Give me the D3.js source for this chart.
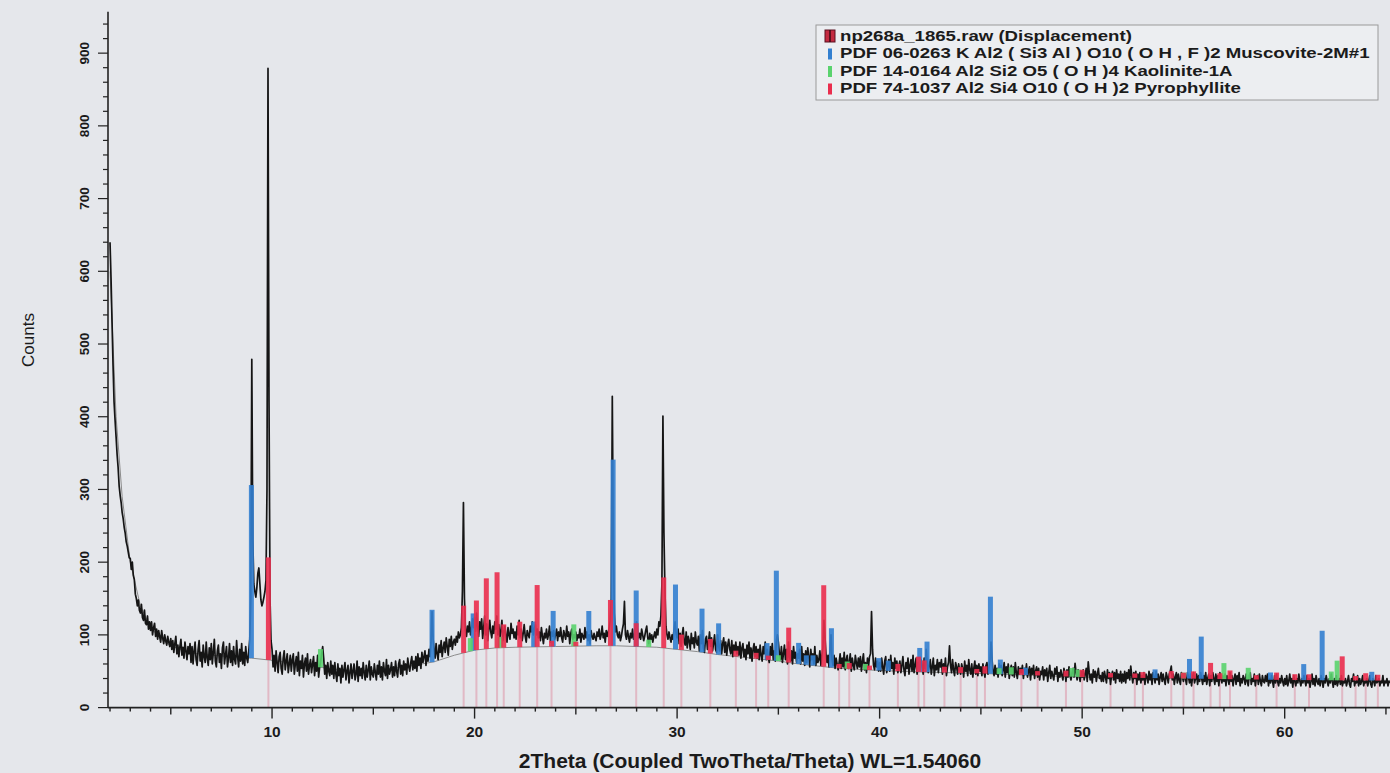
<!DOCTYPE html>
<html>
<head>
<meta charset="utf-8">
<script src="https://cdn.jsdelivr.net/npm/d3@7"></script>
<style>
  html, body { margin: 0; padding: 0; background: #e5e7eb; }
  svg { display: block; }
  text { font-family: "Liberation Sans", Arial, sans-serif; fill: #1b1b1b; }
</style>
</head>
<body>
<svg id="chart" width="1390" height="773"></svg>
<script>
// ---- Scan np268a_1865.raw: start angle and step, degrees 2Theta ----
const scanStart = 2.0;
const scanStep = 0.05;
const counts = [
  640, 590, 530, 470, 420, 395, 372, 348, 330, 305, 292, 282, 268, 260, 248, 240, 228, 222, 214, 206,  // 2
  205, 190, 200, 182, 176, 156, 150, 140, 148, 134, 130, 142, 124, 120, 134, 116, 114, 126, 108, 118,  // 3
  106, 118, 100, 110, 116, 98, 108, 94, 106, 98, 90, 106, 96, 88, 100, 92, 86, 98, 90, 84,             // 4
  95, 80, 92, 76, 88, 98, 74, 86, 70, 84, 94, 72, 83, 68, 90, 78, 66, 84, 74, 88,                       // 5
  62, 84, 60, 78, 90, 66, 58, 80, 92, 64, 76, 56, 86, 70, 62, 90, 68, 58, 82, 66,                       // 6
  88, 60, 76, 94, 64, 56, 78, 86, 62, 74, 54, 82, 90, 60, 72, 84, 56, 68, 88, 62,                       // 7
  78, 58, 84, 66, 60, 92, 70, 56, 80, 64, 88, 60, 76, 58, 84, 68, 62, 78, 94, 150,                      // 8
  479, 230, 170, 160, 152, 165, 185, 192, 170, 148, 140, 145, 152, 160, 175, 300, 879, 420, 150, 92,    // 9
  80, 56, 72, 50, 78, 62, 48, 70, 76, 54, 46, 68, 78, 52, 64, 74, 48, 60, 72, 50,                       // 10
  66, 74, 46, 60, 70, 50, 76, 44, 64, 54, 72, 42, 60, 68, 50, 74, 46, 58, 66, 48,                       // 11
  60, 70, 44, 62, 50, 72, 42, 56, 64, 74, 84, 68, 46, 58, 40, 62, 50, 44, 64, 46,                       // 12
  58, 40, 62, 46, 36, 60, 44, 54, 34, 58, 42, 52, 62, 38, 50, 58, 34, 48, 60, 40,                       // 13
  50, 60, 38, 46, 64, 36, 56, 44, 54, 40, 62, 48, 38, 58, 42, 52, 64, 38, 56, 46,                       // 14
  42, 60, 48, 38, 58, 46, 64, 42, 56, 38, 62, 50, 44, 66, 40, 58, 46, 52, 62, 42,                       // 15
  56, 44, 64, 50, 42, 60, 66, 46, 58, 44, 64, 52, 60, 46, 68, 56, 50, 62, 70, 52,                       // 16
  64, 54, 70, 50, 74, 58, 68, 54, 76, 62, 70, 78, 58, 72, 64, 80, 70, 90, 132, 95,                      // 17
  80, 68, 88, 74, 66, 86, 76, 92, 70, 82, 90, 76, 96, 84, 72, 94, 84, 98, 80, 90,                       // 18
  94, 86, 98, 90, 104, 96, 100, 110, 160, 282, 150, 106, 98, 112, 104, 118, 100, 108, 122, 110,         // 19
  124, 105, 130, 112, 98, 118, 108, 122, 95, 110, 126, 100, 115, 92, 108, 120, 104, 96, 112, 102,       // 20
  118, 108, 126, 100, 114, 96, 106, 120, 92, 104, 112, 98, 90, 110, 100, 94, 116, 102, 108, 96,         // 21
  104, 94, 112, 100, 120, 96, 108, 92, 102, 114, 98, 90, 106, 100, 96, 112, 104, 118, 100, 108,         // 22
  114, 100, 108, 96, 104, 92, 110, 98, 88, 102, 96, 108, 94, 100, 112, 90, 104, 98, 106, 94,            // 23
  100, 108, 92, 104, 98, 110, 96, 90, 106, 100, 94, 112, 98, 104, 88, 102, 108, 94, 100, 96,            // 24
  104, 92, 100, 96, 108, 90, 102, 98, 94, 110, 96, 104, 92, 100, 88, 106, 98, 94, 102, 96,              // 25
  92, 104, 98, 108, 94, 100, 112, 96, 102, 90, 106, 98, 104, 110, 120, 150, 428, 230, 130, 104,         // 26
  112, 100, 96, 104, 92, 98, 108, 115, 146, 100, 94, 106, 98, 90, 102, 96, 108, 94, 100, 110,           // 27
  118, 104, 96, 102, 94, 108, 100, 92, 98, 106, 112, 96, 88, 102, 94, 100, 90, 98, 104, 96,             // 28
  108, 100, 118, 112, 126, 170, 401, 240, 160, 112, 100, 94, 104, 96, 90, 100, 94, 108, 118, 102,       // 29
  96, 108, 88, 102, 84, 100, 110, 90, 86, 104, 82, 98, 92, 80, 102, 88, 96, 82, 104, 90,                // 30
  86, 98, 78, 100, 88, 106, 82, 76, 94, 98, 80, 90, 104, 84, 96, 78, 88, 100, 80, 76,                   // 31
  100, 84, 78, 92, 74, 88, 96, 76, 90, 72, 86, 94, 80, 74, 92, 70, 86, 78, 90, 74,                      // 32
  84, 72, 90, 68, 82, 88, 70, 80, 66, 86, 74, 90, 68, 82, 64, 80, 88, 70, 84, 68,                       // 33
  80, 66, 86, 72, 64, 84, 74, 90, 66, 80, 70, 62, 84, 72, 88, 66, 78, 64, 92, 100,                      // 34
  90, 74, 66, 84, 62, 74, 86, 66, 80, 60, 90, 70, 64, 78, 60, 84, 68, 76, 62, 74,                       // 35
  68, 80, 60, 84, 64, 74, 58, 78, 62, 82, 70, 56, 80, 66, 74, 60, 84, 58, 72, 62,                       // 36
  66, 78, 58, 72, 82, 120, 98, 74, 62, 72, 56, 80, 100, 66, 58, 72, 54, 68, 60, 52,                     // 37
  62, 74, 54, 68, 56, 76, 52, 66, 72, 54, 62, 74, 50, 68, 58, 52, 72, 62, 54, 68,                       // 38
  56, 70, 50, 64, 74, 52, 62, 48, 68, 56, 70, 74, 132, 80, 58, 52, 68, 56, 64, 50,                      // 39
  62, 50, 68, 56, 46, 64, 70, 48, 58, 66, 50, 72, 54, 62, 46, 68, 54, 64, 48, 58,                       // 40
  64, 48, 58, 70, 52, 44, 62, 54, 68, 46, 58, 66, 50, 72, 48, 58, 68, 46, 62, 54,                       // 41
  52, 66, 58, 46, 68, 54, 80, 62, 48, 58, 66, 46, 56, 68, 44, 58, 52, 66, 48, 62,                       // 42
  56, 66, 46, 60, 52, 68, 44, 56, 62, 85, 58, 48, 66, 52, 44, 62, 56, 46, 60, 52,                       // 43
  46, 60, 54, 42, 64, 50, 58, 44, 66, 52, 46, 60, 42, 54, 64, 46, 58, 44, 60, 50,                       // 44
  56, 44, 60, 50, 42, 58, 62, 46, 54, 64, 90, 66, 50, 44, 58, 46, 54, 42, 60, 48,                       // 45
  58, 44, 52, 62, 42, 56, 48, 60, 40, 52, 58, 44, 56, 42, 62, 48, 40, 56, 46, 54,                       // 46
  48, 58, 40, 54, 46, 60, 42, 50, 56, 38, 54, 46, 58, 40, 50, 56, 42, 54, 38, 50,                       // 47
  46, 56, 38, 52, 44, 54, 36, 48, 58, 40, 50, 44, 38, 54, 46, 56, 36, 48, 42, 52,                       // 48
  44, 38, 54, 48, 36, 52, 42, 56, 44, 38, 48, 54, 42, 61, 48, 38, 52, 44, 36, 50,                       // 49
  42, 52, 38, 46, 54, 36, 63, 48, 38, 46, 34, 52, 42, 50, 36, 46, 54, 40, 44, 36,                       // 50
  48, 36, 50, 42, 34, 52, 40, 48, 32, 44, 50, 38, 48, 34, 52, 40, 46, 36, 50, 34,                       // 51
  46, 36, 50, 34, 48, 40, 52, 38, 57, 44, 34, 48, 40, 50, 32, 46, 38, 48, 34, 44,                       // 52
  38, 48, 32, 46, 42, 34, 50, 38, 46, 32, 48, 42, 34, 50, 38, 46, 32, 42, 48, 36,                       // 53
  46, 38, 32, 48, 42, 34, 46, 50, 57, 38, 46, 32, 42, 48, 34, 46, 38, 32, 48, 42,                       // 54
  36, 46, 40, 32, 48, 42, 34, 46, 30, 42, 48, 34, 40, 46, 32, 44, 36, 48, 40, 32,                       // 55
  44, 36, 48, 32, 40, 46, 30, 44, 36, 48, 40, 32, 46, 36, 44, 30, 48, 40, 34, 44,                       // 56
  36, 46, 30, 44, 40, 32, 48, 36, 44, 30, 40, 46, 32, 44, 36, 48, 30, 40, 34, 44,                       // 57
  40, 32, 46, 36, 30, 44, 48, 32, 40, 36, 46, 30, 40, 44, 32, 46, 36, 30, 44, 36,                       // 58
  34, 44, 36, 46, 30, 40, 34, 44, 36, 28, 44, 34, 46, 36, 30, 40, 34, 44, 36, 30,                       // 59
  40, 32, 44, 30, 36, 46, 34, 40, 28, 44, 36, 30, 40, 34, 46, 36, 30, 40, 34, 44,                       // 60
  36, 30, 44, 34, 40, 28, 36, 46, 32, 40, 30, 44, 36, 32, 40, 30, 44, 36, 28, 40,                       // 61
  34, 44, 36, 30, 40, 34, 46, 36, 28, 40, 32, 44, 30, 36, 40, 32, 44, 30, 36, 34,                       // 62
  40, 30, 36, 44, 32, 28, 40, 36, 46, 30, 36, 34, 44, 30, 40, 32, 36, 44, 30, 36,                       // 63
  34, 40, 30, 36, 44, 32, 28, 40, 36, 30, 44, 34, 36, 40, 30, 36, 34, 44, 30, 36,                       // 64
  34, 40, 30, 36, 34                                                                                   // 65
];

// ---- Fitted background (stick patterns stand on it) ----
const bgTheta  = [2.0, 2.3, 2.6, 3.0, 3.5, 4.0, 4.5, 5.0, 6.0, 7.0, 8.0, 9.0, 10.0, 11.0, 12.0, 13.0, 14.0, 15.0, 16.0, 17.0, 18.0, 19.0, 20.0, 21.0, 22.0, 24.0, 26.0, 27.0, 28.0, 29.0, 30.0, 31.0, 32.0, 33.0, 34.0, 35.0, 36.0, 37.0, 38.0, 40.0, 42.0, 45.0, 48.0, 50.0, 55.0, 60.0, 65.5];
const bgCounts = [600, 400, 290, 200, 140, 110, 95, 85, 75, 72, 70, 68, 65, 61, 57, 53, 51, 51, 54, 58, 63, 72, 79, 82, 83, 84, 85, 85, 84, 83, 80, 77, 73, 70, 67, 64, 60, 57, 54, 51, 49, 47, 44, 42, 40, 38, 37];

// ---- PDF 06-0263 Muscovite-2M#1 (height above background) ----
const muscoviteTheta  = [8.98, 17.9, 19.93, 22.92, 23.88, 25.64, 26.84, 27.98, 29.92, 31.23, 32.05, 34.44, 34.9, 36.0, 36.38, 36.71, 37.62, 39.96, 40.43, 41.98, 42.34, 45.47, 45.96, 47.2, 53.6, 55.3, 55.88, 59.3, 60.94, 61.85, 64.3];
const muscoviteHeight = [238, 72, 51, 35, 49, 48, 256, 77, 89, 60, 43, 23, 124, 29, 13, 14, 54, 17, 14, 33, 42, 106, 20, 10, 12, 27, 58, 10, 22, 68, 12];

// ---- PDF 14-0164 Kaolinite-1A ----
const kaoliniteTheta  = [12.39, 19.79, 21.27, 24.9, 28.6, 35.0, 38.4, 39.3, 45.9, 46.5, 49.5, 49.8, 55.0, 57.0, 58.2, 62.3, 62.59];
const kaoliniteHeight = [25, 18, 15, 30, 10, 8, 10, 8, 8, 10, 12, 10, 8, 22, 16, 12, 27];

// ---- PDF 74-1037 Pyrophyllite ----
const pyrophylliteTheta  = [9.82, 19.46, 20.09, 20.58, 21.11, 21.44, 22.23, 23.09, 23.8, 25.0, 26.71, 27.98, 29.34, 30.21, 31.64, 32.9, 33.9, 34.5, 35.51, 37.24, 38.0, 38.5, 39.5, 40.9, 41.92, 42.2, 43.2, 44.0, 44.8, 45.2, 47.0, 47.8, 49.2, 50.0, 51.4, 52.6, 53.0, 54.4, 55.0, 55.5, 56.34, 56.8, 57.3, 58.6, 59.6, 60.5, 61.2, 62.84, 63.5, 64.0, 64.6];
const pyrophylliteHeight = [141, 65, 68, 97, 104, 32, 35, 85, 8, 6, 63, 32, 97, 21, 20, 8, 8, 6, 48, 112, 6, 8, 6, 10, 21, 16, 8, 8, 6, 10, 8, 6, 8, 10, 6, 6, 8, 10, 8, 10, 22, 8, 12, 6, 10, 8, 8, 33, 6, 10, 8];

// ---- Axis ticks and texts ----
const xTickLabels = [10, 20, 30, 40, 50, 60];
const yTickLabels = [0, 100, 200, 300, 400, 500, 600, 700, 800, 900];
const legendLabels = [
  "np268a_1865.raw (Displacement)",
  "PDF 06-0263 K Al2 ( Si3 Al ) O10 ( O H , F )2 Muscovite-2M#1",
  "PDF 14-0164 Al2 Si2 O5 ( O H )4 Kaolinite-1A",
  "PDF 74-1037 Al2 Si4 O10 ( O H )2 Pyrophyllite"
];
const xTitle = "2Theta (Coupled TwoTheta/Theta) WL=1.54060";
const yTitle = "Counts";

// ---- Colours ----
const colBlue = "#3380d0", colGreen = "#5ad36e", colRed = "#ea2e4e", colPink = "rgba(222,140,160,0.5)";

const svg = d3.select("#chart");
const W = 1390, H = 773;
const x = d3.scaleLinear().domain([1.9, 65.2]).range([108, 1390]);
const y = d3.scaleLinear().domain([0, 957]).range([707.6, 11.7]);
const bg = d3.scaleLinear().domain(bgTheta).range(bgCounts).clamp(true);

svg.append("rect").attr("width", W).attr("height", H).attr("fill", "#e5e7eb");

const plot = svg.append("g");

// pale pyrophyllite stick lines below the background
plot.append("g").selectAll("line")
  .data(pyrophylliteTheta)
  .join("line")
  .attr("x1", d => x(d)).attr("x2", d => x(d))
  .attr("y1", y(0)).attr("y2", d => y(bg(d)))
  .attr("stroke", colPink).attr("stroke-width", 2);

// background curve
const bgLine = d3.line().x((d, i) => x(bgTheta[i])).y(d => y(d));
plot.append("path").attr("d", bgLine(bgCounts))
  .attr("fill", "none").attr("stroke", "#8c8c8c").attr("stroke-width", 1);

// measured scan
const scan = counts.map((c, i) => [scanStart + i * scanStep, c]);
plot.append("path")
  .attr("d", d3.line().x(d => x(d[0])).y(d => y(d[1]))(scan))
  .attr("fill", "none").attr("stroke", "#151515").attr("stroke-width", 1.7)
  .attr("stroke-linejoin", "round");

// stick patterns drawn as bars standing on the background
function sticks(thetas, heights, colour) {
  plot.append("g").selectAll("rect")
    .data(thetas.map((t, i) => ({ t, h: heights[i] })))
    .join("rect")
    .attr("x", d => x(d.t) - 2.5)
    .attr("width", 5)
    .attr("y", d => y(bg(d.t) + d.h))
    .attr("height", d => y(bg(d.t)) - y(bg(d.t) + d.h))
    .attr("fill", colour).attr("opacity", 0.9);
}
sticks(muscoviteTheta, muscoviteHeight, colBlue);
sticks(kaoliniteTheta, kaoliniteHeight, colGreen);
sticks(pyrophylliteTheta, pyrophylliteHeight, colRed);

// ---- Axes ----
const axisCol = "#222";
const xMinor = d3.range(2, 66, 1);
const xAxisG = svg.append("g").attr("transform", `translate(0,${y(0)})`);
xAxisG.append("line").attr("x1", 108).attr("x2", W).attr("stroke", axisCol).attr("stroke-width", 1.6);
xAxisG.selectAll("line.tick").data(xMinor).join("line").attr("class", "tick")
  .attr("x1", d => x(d)).attr("x2", d => x(d))
  .attr("y1", 0).attr("y2", d => d % 10 === 0 ? 11 : (d % 5 === 0 ? 7 : 4))
  .attr("stroke", axisCol).attr("stroke-width", 1.4);
xAxisG.selectAll("text").data(xTickLabels).join("text")
  .attr("x", d => x(d)).attr("y", 29)
  .attr("text-anchor", "middle").attr("font-size", 15.5).attr("font-weight", "bold")
  .text(d => d);

const yMinor = d3.range(0, 960, 20);
const yAxisG = svg.append("g").attr("transform", "translate(108,0)");
yAxisG.append("line").attr("y1", y(957)).attr("y2", y(0)).attr("stroke", axisCol).attr("stroke-width", 1.6);
yAxisG.selectAll("line.tick").data(yMinor).join("line").attr("class", "tick")
  .attr("y1", d => y(d)).attr("y2", d => y(d))
  .attr("x1", 0).attr("x2", d => d % 100 === 0 ? -10 : -5)
  .attr("stroke", axisCol).attr("stroke-width", 1.2);
yAxisG.selectAll("text").data(yTickLabels).join("text")
  .attr("transform", d => `translate(-19,${y(d)}) rotate(-90)`)
  .attr("text-anchor", "middle").attr("font-size", 13.5).attr("font-weight", "bold")
  .text(d => d);

svg.append("text").attr("x", 750).attr("y", 768)
  .attr("text-anchor", "middle").attr("font-size", 21).attr("font-weight", "bold")
  .text(xTitle);
svg.append("text").attr("transform", "translate(34,340) rotate(-90)")
  .attr("text-anchor", "middle").attr("font-size", 17)
  .text(yTitle);

// ---- Legend ----
const lg = svg.append("g");
lg.append("rect").attr("x", 816).attr("y", 25).attr("width", 562).attr("height", 75)
  .attr("fill", "#eceef1").attr("stroke", "#9a9a9a").attr("stroke-width", 1);
const rowY = [36, 53.5, 71, 88.5];
const markerCol = ["#c0223a", colBlue, colGreen, colRed];
legendLabels.forEach((t, i) => {
  if (i === 0) {
    lg.append("rect").attr("x", 825).attr("y", rowY[i] - 6).attr("width", 10).attr("height", 12)
      .attr("fill", "#c42a40").attr("stroke", "#5a1020").attr("stroke-width", 1);
    lg.append("line").attr("x1", 830).attr("x2", 830).attr("y1", rowY[i] - 6).attr("y2", rowY[i] + 6)
      .attr("stroke", "#3a0a14").attr("stroke-width", 1.5);
  } else {
    lg.append("rect").attr("x", 828).attr("y", rowY[i] - 5).attr("width", 4).attr("height", 11)
      .attr("fill", markerCol[i]);
  }
});
// legend texts are set in a horizontally widened face so the longest entry spans the box
const legendText = lg.append("g");
legendText.selectAll("text").data(legendLabels).join("text")
  .attr("x", 0).attr("y", (d, i) => rowY[i] + 5)
  .attr("font-size", 14).attr("font-weight", "bold").attr("fill", "#222")
  .text(d => d);
const widest = d3.max(legendText.selectAll("text").nodes(), n => n.getComputedTextLength());
legendText.attr("transform", `translate(840,0) scale(${530 / widest},1)`);
</script>
</body>
</html>
